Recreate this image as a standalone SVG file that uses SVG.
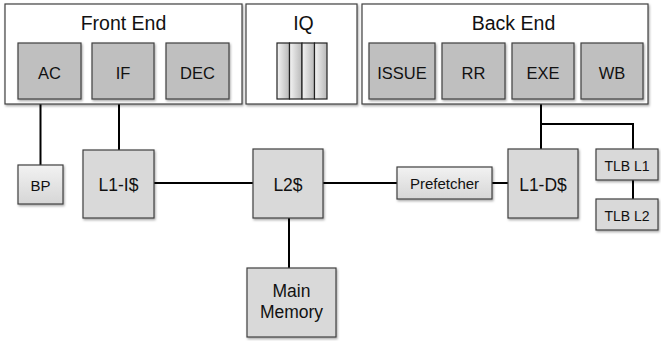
<svg xmlns="http://www.w3.org/2000/svg" width="661" height="341" viewBox="0 0 661 341">
<defs>
<filter id="sh" x="-20%" y="-20%" width="140%" height="140%"><feDropShadow dx="1" dy="1.5" stdDeviation="1" flood-color="#000" flood-opacity="0.35"/></filter>
<linearGradient id="lg" x1="0" y1="0" x2="0" y2="1"><stop offset="0" stop-color="#f2f2f2"/><stop offset="1" stop-color="#d6d6d6"/></linearGradient>
<linearGradient id="qg" x1="0" y1="0" x2="1" y2="0"><stop offset="0" stop-color="#f4f4f4"/><stop offset="1" stop-color="#b8b8b8"/></linearGradient>
</defs>
<style>
.grp{fill:#fff;stroke:#404040;stroke-width:1.2;filter:url(#sh)}
.stage{fill:#bfbfbf;stroke:#404040;stroke-width:1.2;filter:url(#sh)}
.mem{fill:#d9d9d9;stroke:#404040;stroke-width:1.2;filter:url(#sh)}
.sm{fill:url(#lg);stroke:#404040;stroke-width:1.2;filter:url(#sh)}
.q{fill:url(#qg);stroke:#222;stroke-width:1.2}
.t{font-family:"Liberation Sans",Arial,sans-serif;fill:#111;text-anchor:middle}
.h{font-size:19.5px}
.l{font-size:16.5px}
.m{font-size:17.5px}
.s{font-size:15px}
.x{font-size:14px}
.c{stroke:#000;stroke-width:2;fill:none}
</style>
<g id="connectors">
<line class="c" x1="40.5" y1="104" x2="40.5" y2="165"/>
<line class="c" x1="119" y1="104" x2="119" y2="150"/>
<line class="c" x1="154" y1="183" x2="253" y2="183"/>
<line class="c" x1="323" y1="183" x2="397" y2="183"/>
<line class="c" x1="492" y1="183" x2="508" y2="183"/>
<line class="c" x1="289" y1="218" x2="289" y2="268"/>
<polyline class="c" points="541,104 541,149"/>
<polyline class="c" points="541,124 633,124 633,149"/>
<line class="c" x1="633" y1="180" x2="633" y2="199"/>
</g>
<g id="front-end">
<rect class="grp" x="5" y="4" width="237" height="100"/>
<text class="t h" x="123.5" y="30">Front End</text>
</g>
<g id="ac"><rect class="stage" x="18" y="43" width="63" height="56"/><text class="t l" x="49.5" y="79">AC</text></g>
<g id="if"><rect class="stage" x="92" y="43" width="62" height="56"/><text class="t l" x="123" y="79">IF</text></g>
<g id="dec"><rect class="stage" x="166" y="43" width="63" height="56"/><text class="t l" x="197.5" y="79">DEC</text></g>
<g id="iq">
<rect class="grp" x="246" y="4" width="111" height="100"/>
<text class="t h" x="303.5" y="30">IQ</text>
<rect class="q" x="277" y="43" width="12.5" height="56"/>
<rect class="q" x="289.5" y="43" width="12.5" height="56"/>
<rect class="q" x="302" y="43" width="12.5" height="56"/>
<rect class="q" x="314.5" y="43" width="12.5" height="56"/>
</g>
<g id="back-end">
<rect class="grp" x="362" y="4" width="286" height="100"/>
<text class="t h" x="513.5" y="30">Back End</text>
</g>
<g id="issue"><rect class="stage" x="369" y="43" width="66" height="56"/><text class="t l" x="402" y="79">ISSUE</text></g>
<g id="rr"><rect class="stage" x="442" y="43" width="63" height="56"/><text class="t l" x="473.5" y="79">RR</text></g>
<g id="exe"><rect class="stage" x="512" y="43" width="62" height="56"/><text class="t l" x="543" y="79">EXE</text></g>
<g id="wb"><rect class="stage" x="581" y="43" width="62" height="56"/><text class="t l" x="612" y="79">WB</text></g>
<g id="bp"><rect class="sm" x="18" y="165" width="45" height="39"/><text class="t s" x="40.5" y="191">BP</text></g>
<g id="l1i"><rect class="mem" x="83" y="150" width="71" height="68"/><text class="t m" x="118.5" y="191">L1-I$</text></g>
<g id="l2"><rect class="mem" x="253" y="149" width="70" height="69"/><text class="t m" x="288" y="191">L2$</text></g>
<g id="prefetcher"><rect class="sm" x="397" y="167" width="95" height="32"/><text class="t s" x="444.5" y="189">Prefetcher</text></g>
<g id="l1d"><rect class="mem" x="508" y="149" width="70" height="69"/><text class="t m" x="543" y="191">L1-D$</text></g>
<g id="tlbl1"><rect class="mem" x="596" y="149" width="62" height="31"/><text class="t x" x="627" y="171">TLB L1</text></g>
<g id="tlbl2"><rect class="mem" x="596" y="199" width="62" height="31"/><text class="t x" x="627" y="221">TLB L2</text></g>
<g id="main-memory"><rect class="mem" x="247" y="268" width="89" height="69"/><text class="t m" x="291.5" y="297">Main</text><text class="t m" x="291.5" y="318">Memory</text></g>
</svg>
